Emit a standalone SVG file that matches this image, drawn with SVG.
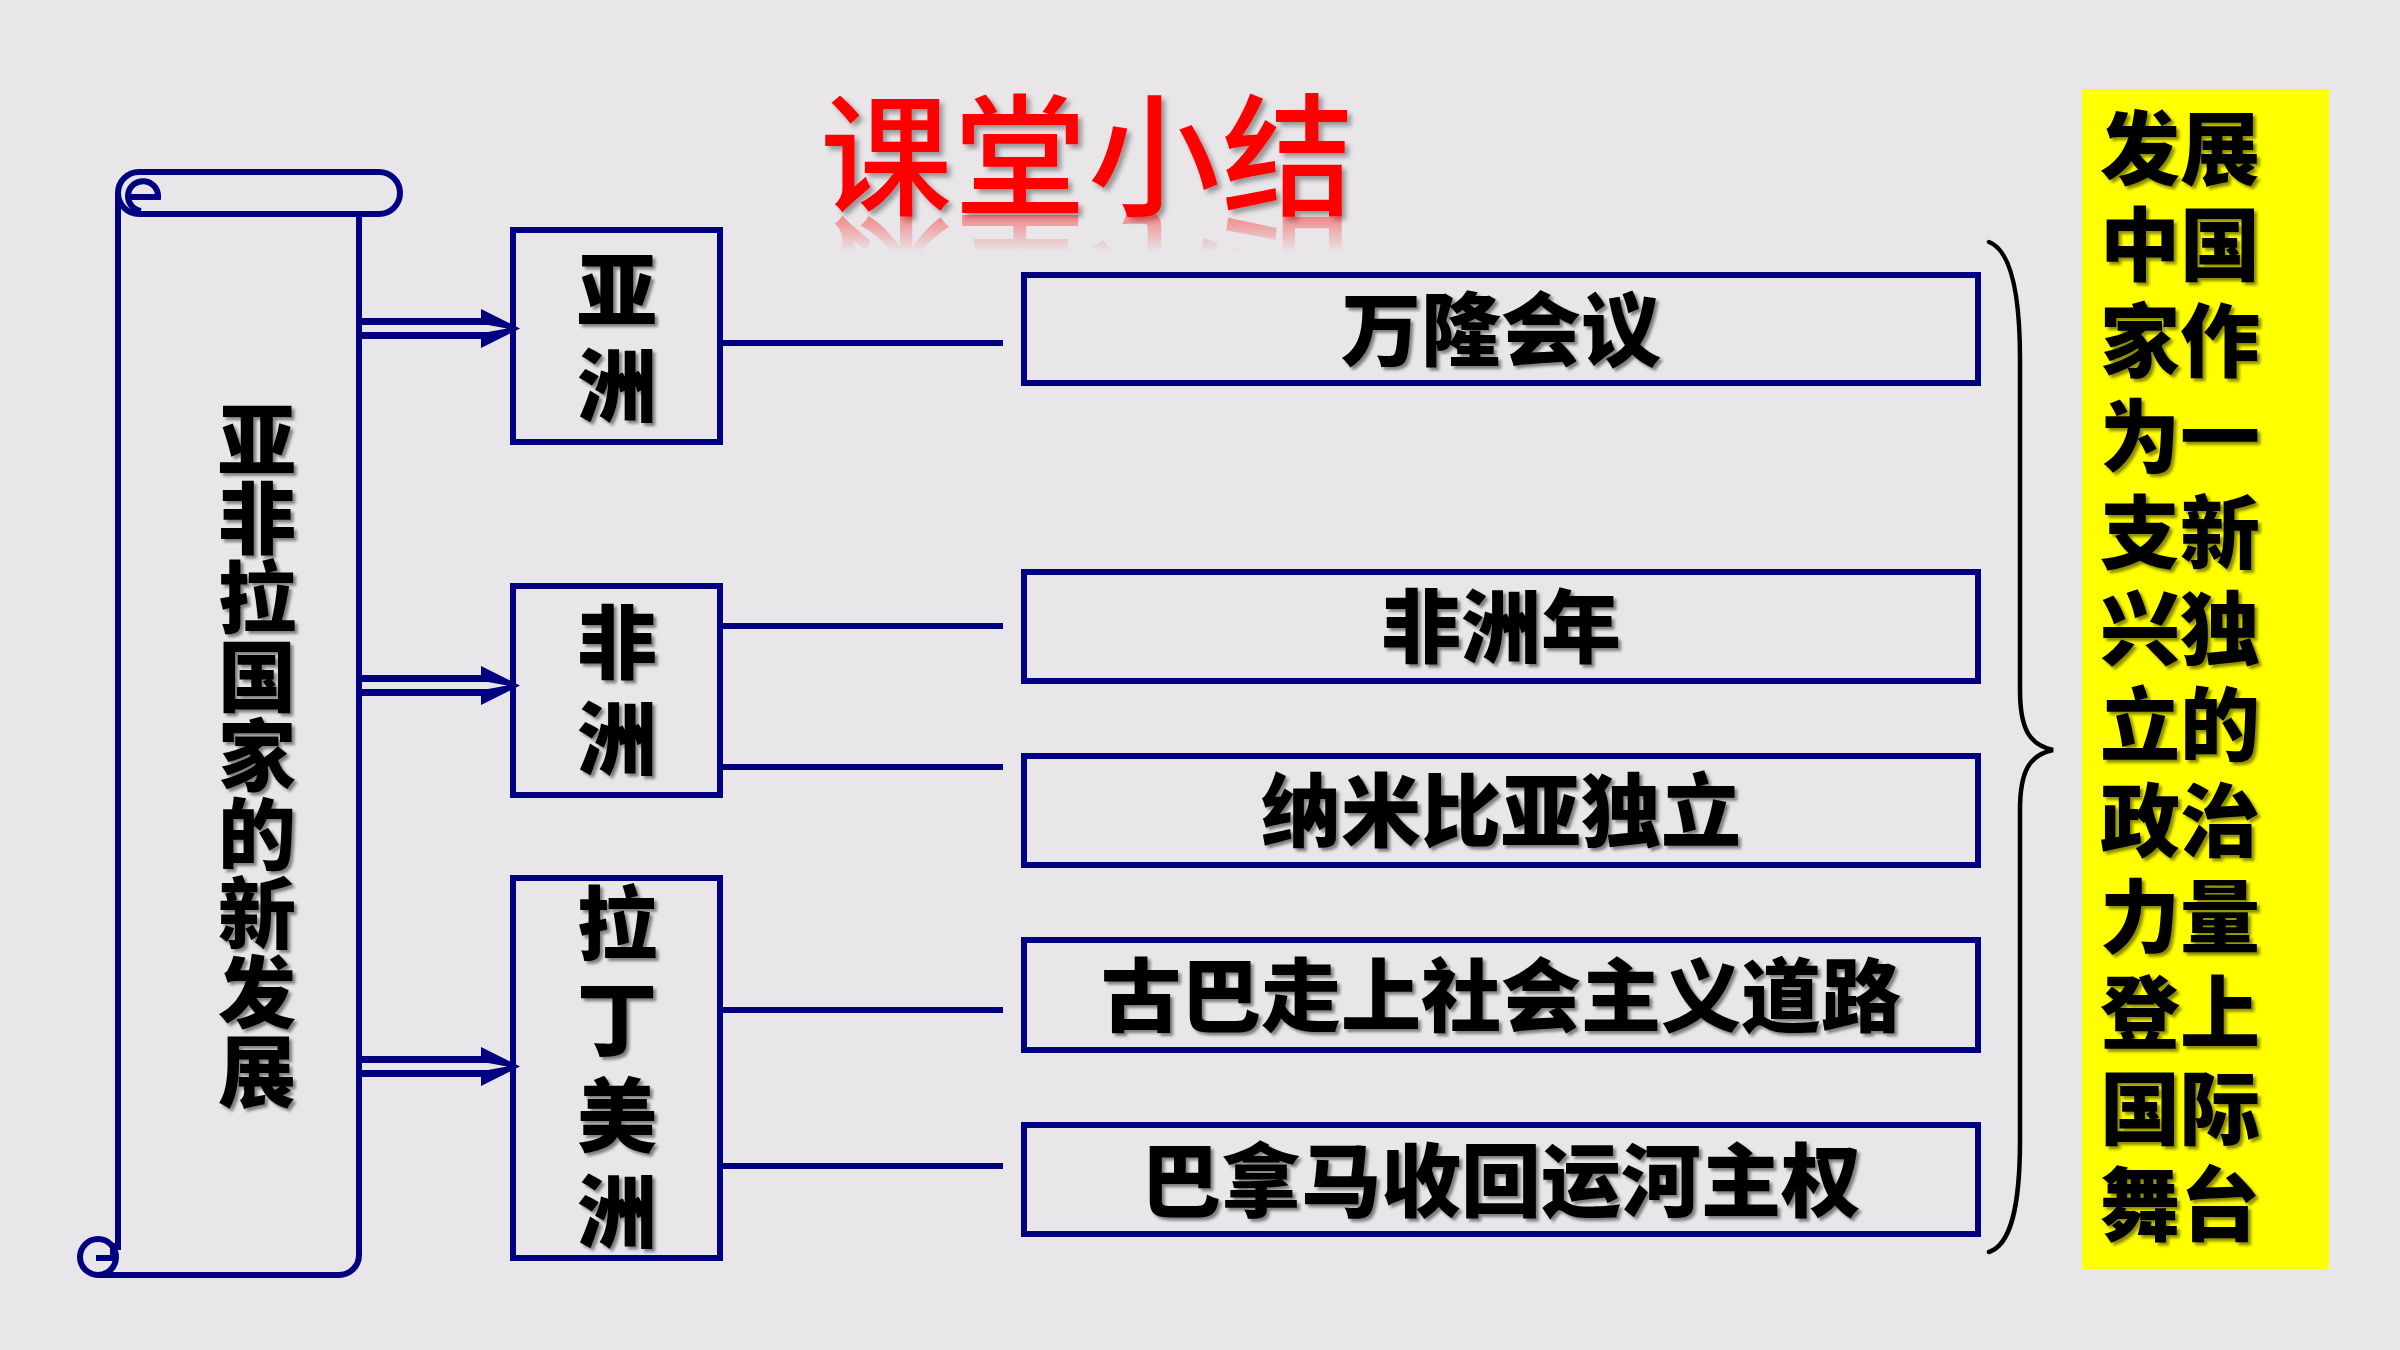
<svg xmlns="http://www.w3.org/2000/svg" width="2400" height="1350" viewBox="0 0 2400 1350">
<defs>
<style>
.nv{fill:none;stroke:#000080;stroke-width:6}
.box{fill:none;stroke:#000080;stroke-width:6}
.t{font-family:"Noto Sans CJK SC","Noto Sans CJK TC",sans-serif;font-weight:900;font-size:80px;fill:#000;text-anchor:middle;filter:url(#sh)}
.s{font-size:78px}
.title{font-family:"Noto Sans CJK SC",sans-serif;font-weight:500;font-size:132px;fill:#FF0000;text-anchor:middle;letter-spacing:2px}
.brace{fill:none;stroke:#000;stroke-width:4.5;stroke-linecap:round}
</style>
<filter id="sh" x="-10%" y="-10%" width="130%" height="130%">
<feDropShadow dx="3" dy="3" stdDeviation="1.5" flood-color="#000" flood-opacity="0.45"/>
</filter>
<filter id="tsh" x="-10%" y="-10%" width="130%" height="130%">
<feDropShadow dx="4" dy="4" stdDeviation="2.5" flood-color="#000" flood-opacity="0.35"/>
</filter>
<linearGradient id="rg" x1="0" y1="0" x2="0" y2="1">
<stop offset="0" stop-color="#fff" stop-opacity="0.45"/>
<stop offset="1" stop-color="#fff" stop-opacity="0"/>
</linearGradient>
<mask id="rm" maskUnits="userSpaceOnUse" x="700" y="212" width="800" height="50">
<rect x="700" y="212" width="800" height="40" fill="url(#rg)"/>
</mask>
</defs>
<rect width="2400" height="1350" fill="#E8E6E8"/>

<g id="title">
<text class="title" x="1088" y="205" filter="url(#tsh)">课堂小结</text>
<g mask="url(#rm)">
<text class="title" x="1088" y="205" transform="translate(0,428) scale(1,-1)">课堂小结</text>
</g>
</g>

<g id="scroll">
<path class="nv" d="M118,193 V1250"/>
<rect class="nv" x="118" y="172" width="282" height="42" rx="21"/>
<path class="nv" d="M131,197 H158 A15 15 0 1 0 141,211"/>
<path class="nv" d="M359,214 V1255 A20 20 0 0 1 339,1275 H98"/>
<circle class="nv" cx="98" cy="1257" r="18"/>
<path class="nv" d="M113,1243 V1258 H96"/>
<text class="t s"><tspan x="257" y="469">亚</tspan><tspan x="257" y="548">非</tspan><tspan x="257" y="627">拉</tspan><tspan x="257" y="706">国</tspan><tspan x="257" y="785">家</tspan><tspan x="257" y="864">的</tspan><tspan x="257" y="943">新</tspan><tspan x="257" y="1022">发</tspan><tspan x="257" y="1101">展</tspan></text>
</g>

<g id="asia">
<rect class="box" x="513" y="230" width="207" height="212"/>
<text class="t"><tspan x="617" y="319">亚</tspan><tspan x="617" y="415">洲</tspan></text>
</g>
<g id="africa">
<rect class="box" x="513" y="586" width="207" height="209"/>
<text class="t"><tspan x="617" y="672">非</tspan><tspan x="617" y="768">洲</tspan></text>
</g>
<g id="latam">
<rect class="box" x="513" y="878" width="207" height="380"/>
<text class="t"><tspan x="617" y="953">拉</tspan><tspan x="617" y="1049">丁</tspan><tspan x="617" y="1145">美</tspan><tspan x="617" y="1241">洲</tspan></text>
</g>

<g id="bandung">
<rect class="box" x="1024" y="275" width="954" height="108"/>
<text class="t" x="1501" y="359">万隆会议</text>
</g>
<g id="africa-year">
<rect class="box" x="1024" y="572" width="954" height="109"/>
<text class="t" x="1501" y="656">非洲年</text>
</g>
<g id="namibia">
<rect class="box" x="1024" y="756" width="954" height="109"/>
<text class="t" x="1501" y="840">纳米比亚独立</text>
</g>
<g id="cuba">
<rect class="box" x="1024" y="940" width="954" height="110"/>
<text class="t" x="1501" y="1025">古巴走上社会主义道路</text>
</g>
<g id="panama">
<rect class="box" x="1024" y="1125" width="954" height="109"/>
<text class="t" x="1501" y="1210">巴拿马收回运河主权</text>
</g>

<g id="summary">
<rect x="2082" y="89" width="247" height="1180" fill="#FFFF00"/>
<text class="t"><tspan x="2180" y="178">发展</tspan><tspan x="2180" y="274">中国</tspan><tspan x="2180" y="370">家作</tspan><tspan x="2180" y="466">为一</tspan><tspan x="2180" y="562">支新</tspan><tspan x="2180" y="658">兴独</tspan><tspan x="2180" y="754">立的</tspan><tspan x="2180" y="850">政治</tspan><tspan x="2180" y="946">力量</tspan><tspan x="2180" y="1042">登上</tspan><tspan x="2180" y="1138">国际</tspan><tspan x="2180" y="1234">舞台</tspan></text>
</g>

<g id="connectors">
<g id="arrow-asia">
<rect x="362" y="318" width="120" height="21" fill="#000080"/>
<polygon points="481,309 520,328.5 481,348" fill="#000080"/>
<polygon points="362,325 488,325 507,328.5 488,332 362,332" fill="#E8E6E8"/>
</g>
<g id="arrow-africa">
<rect x="362" y="675" width="120" height="21" fill="#000080"/>
<polygon points="481,666 520,685.5 481,705" fill="#000080"/>
<polygon points="362,682 488,682 507,685.5 488,689 362,689" fill="#E8E6E8"/>
</g>
<g id="arrow-latam">
<rect x="362" y="1056" width="120" height="21" fill="#000080"/>
<polygon points="481,1047 520,1066.5 481,1086" fill="#000080"/>
<polygon points="362,1063 488,1063 507,1066.5 488,1070 362,1070" fill="#E8E6E8"/>
</g>
<path class="nv" d="M723,343 H1003"/>
<path class="nv" d="M723,626 H1003"/>
<path class="nv" d="M723,767 H1003"/>
<path class="nv" d="M723,1010 H1003"/>
<path class="nv" d="M723,1166 H1003"/>
<path class="brace" d="M1989,242 C2010,250 2020,290 2020,360 L2020,690 C2020,730 2030,745 2053,750 C2030,755 2020,770 2020,810 L2020,1140 C2020,1210 2010,1245 1989,1252"/>
</g>
</svg>
